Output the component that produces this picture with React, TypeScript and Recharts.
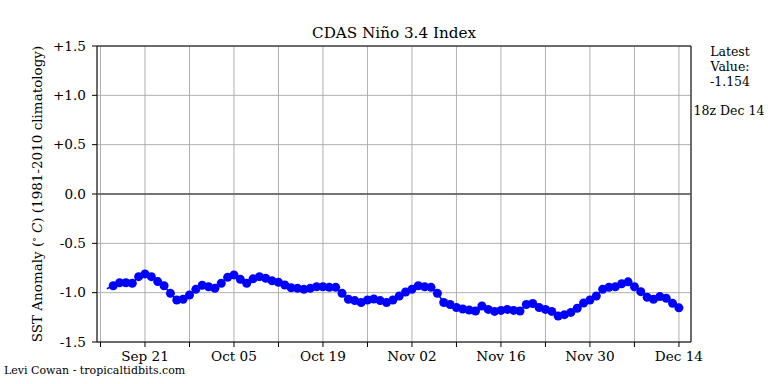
import * as React from "react";
import {
  CartesianGrid,
  Line,
  LineChart,
  ReferenceArea,
  ReferenceLine,
  XAxis,
  YAxis,
} from "recharts";

// day 0 = Sep 14; one value per day from Sep 15 to Dec 14
const FIRST_DAY = 1;
const ninoValues = [
  -0.96, -0.93, -0.9, -0.9, -0.905, -0.838, -0.81, -0.838, -0.888, -0.93,
  -1.007, -1.074, -1.067, -1.024, -0.966, -0.925, -0.94, -0.956, -0.905, -0.845,
  -0.82, -0.865, -0.905, -0.86, -0.838, -0.855, -0.88, -0.895, -0.922, -0.95,
  -0.956, -0.966, -0.956, -0.94, -0.94, -0.946, -0.946, -1.007, -1.067, -1.08,
  -1.1, -1.074, -1.064, -1.08, -1.1, -1.074, -1.034, -0.993, -0.966, -0.93,
  -0.94, -0.946, -1.007, -1.1, -1.12, -1.15, -1.165, -1.176, -1.186, -1.135,
  -1.17, -1.19, -1.18, -1.17, -1.18, -1.186, -1.12, -1.11, -1.15, -1.17,
  -1.19, -1.236, -1.223, -1.2, -1.158, -1.105, -1.074, -1.034, -0.966, -0.945,
  -0.94, -0.91, -0.89, -0.94, -0.99, -1.047, -1.067, -1.04, -1.057, -1.108,
  -1.154,
];

const weekTicks = [0, 7, 14, 21, 28, 35, 42, 49, 56, 63, 70, 77, 84, 91];
const weekLabels: Record<number, string> = {
  7: "Sep 21",
  21: "Oct 05",
  35: "Oct 19",
  49: "Nov 02",
  63: "Nov 16",
  77: "Nov 30",
  91: "Dec 14",
};
const yTicks = [-1.5, -1.0, -0.5, 0, 0.5, 1.0, 1.5];
const yLabels = ["-1.5", "-1.0", "-0.5", "0.0", "+0.5", "+1.0", "+1.5"];

const data = ninoValues.map((v, i) => ({ day: FIRST_DAY + i, value: v }));

const FONT = "'DejaVu Serif', 'Liberation Serif', serif";

function Dot(props: any) {
  const { cx, cy, index } = props;
  if (index === 0 || cx == null) return <g key={`d${index}`} />;
  return <circle key={`d${index}`} cx={cx} cy={cy} r={4.5} fill="#0000ff" />;
}

function YLabel({ viewBox }: any) {
  const cy = viewBox.y + viewBox.height / 2;
  const x = 42;
  return (
    <text
      x={x}
      y={cy}
      transform={`rotate(-90 ${x} ${cy})`}
      textAnchor="middle"
      fontFamily={FONT}
      fontSize={13.5}
      fill="#000"
    >
      SST Anomaly (
      <tspan fontSize={9} dy={-5}>∘</tspan>
      <tspan dy={5} fontStyle="italic"> C</tspan>
      ) (1981-2010 climatology)
    </text>
  );
}

export default function App() {
  return (
    <div
      style={{
        position: "absolute",
        left: 0,
        top: 0,
        width: 768,
        height: 384,
        background: "#fff",
        fontFamily: FONT,
      }}
    >
      <div style={{ position: "absolute", left: 0, width: 788, top: 24, textAlign: "center", fontSize: 15.2 }}>
        CDAS Niño 3.4 Index
      </div>
      <div style={{ position: "absolute", left: 690, width: 80, top: 44, textAlign: "center", fontSize: 12.5, lineHeight: "15px" }}>
        Latest
        <br />
        Value:
        <br />
        -1.154
      </div>
      <div style={{ position: "absolute", left: 690, width: 78, top: 103, textAlign: "center", fontSize: 12.5, whiteSpace: "nowrap" }}>
        18z Dec 14
      </div>
      <div style={{ position: "absolute", left: 4, top: 365, fontSize: 11, lineHeight: "11px" }}>
        Levi Cowan - tropicaltidbits.com
      </div>
      <LineChart
        width={768}
        height={384}
        data={data}
        margin={{ top: 46, right: 77, bottom: 12, left: 37 }}
      >
        <CartesianGrid
          stroke="#b0b0b0"
          strokeWidth={1}
          vertical
          horizontal
        />
        <XAxis
          dataKey="day"
          type="number"
          domain={[-0.55, 92.9]}
          ticks={weekTicks}
          tickFormatter={(d: number) => weekLabels[d] ?? ""}
          interval={0}
          height={30}
          axisLine={false}
          tickLine={{ stroke: "#000" }}
          tickSize={5}
          tickMargin={4}
          tick={{ fontFamily: FONT, fontSize: 13.6, fill: "#000" }}
          allowDataOverflow
        />
        <YAxis
          type="number"
          domain={[-1.5, 1.5]}
          ticks={yTicks}
          tickFormatter={(v: number) => yLabels[yTicks.indexOf(v)]}
          interval={0}
          width={60}
          axisLine={false}
          tickLine={{ stroke: "#000" }}
          tickSize={5}
          tickMargin={6}
          tick={{ fontFamily: FONT, fontSize: 13.6, fill: "#000" }}
          label={<YLabel />}
          allowDataOverflow
        />
        <ReferenceLine y={0} stroke="#555" strokeWidth={1.3} />
        <ReferenceArea
          x1={-0.55}
          x2={92.9}
          y1={-1.5}
          y2={1.5}
          fill="none"
          stroke="#000"
          strokeWidth={1}
          strokeOpacity={1}
          fillOpacity={0}
        />
        <Line
          type="linear"
          dataKey="value"
          stroke="#0000ff"
          strokeWidth={1.5}
          dot={<Dot />}
          activeDot={false}
          isAnimationActive={false}
        />
      </LineChart>
    </div>
  );
}
